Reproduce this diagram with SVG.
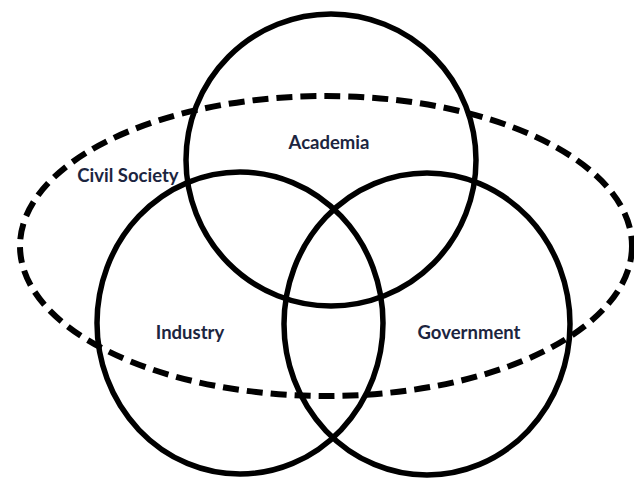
<svg xmlns="http://www.w3.org/2000/svg" width="634" height="479" viewBox="0 0 634 479">
<style>
.c{fill:none;stroke:#000;stroke-width:5.5}
.d{fill:none;stroke:#000;stroke-width:6;stroke-dasharray:16 8}
.t{font-family:Lato,"Open Sans",sans-serif;font-size:18.5px;font-weight:bold;fill:#1c2540;text-anchor:middle}
</style>
<rect width="634" height="479" fill="#fff"/>
<g id="civil-society"><ellipse class="d" cx="326" cy="246" rx="306" ry="150"/><text class="t" x="128" y="182">Civil Society</text></g>
<g id="academia"><ellipse class="c" cx="331" cy="160" rx="145" ry="146"/><text class="t" x="329" y="149">Academia</text></g>
<g id="industry"><ellipse class="c" cx="240" cy="323" rx="143" ry="151"/><text class="t" x="190" y="339">Industry</text></g>
<g id="government"><ellipse class="c" cx="427" cy="324" rx="143" ry="151"/><text class="t" x="469" y="339">Government</text></g>
<g id="connectors"/>
</svg>
